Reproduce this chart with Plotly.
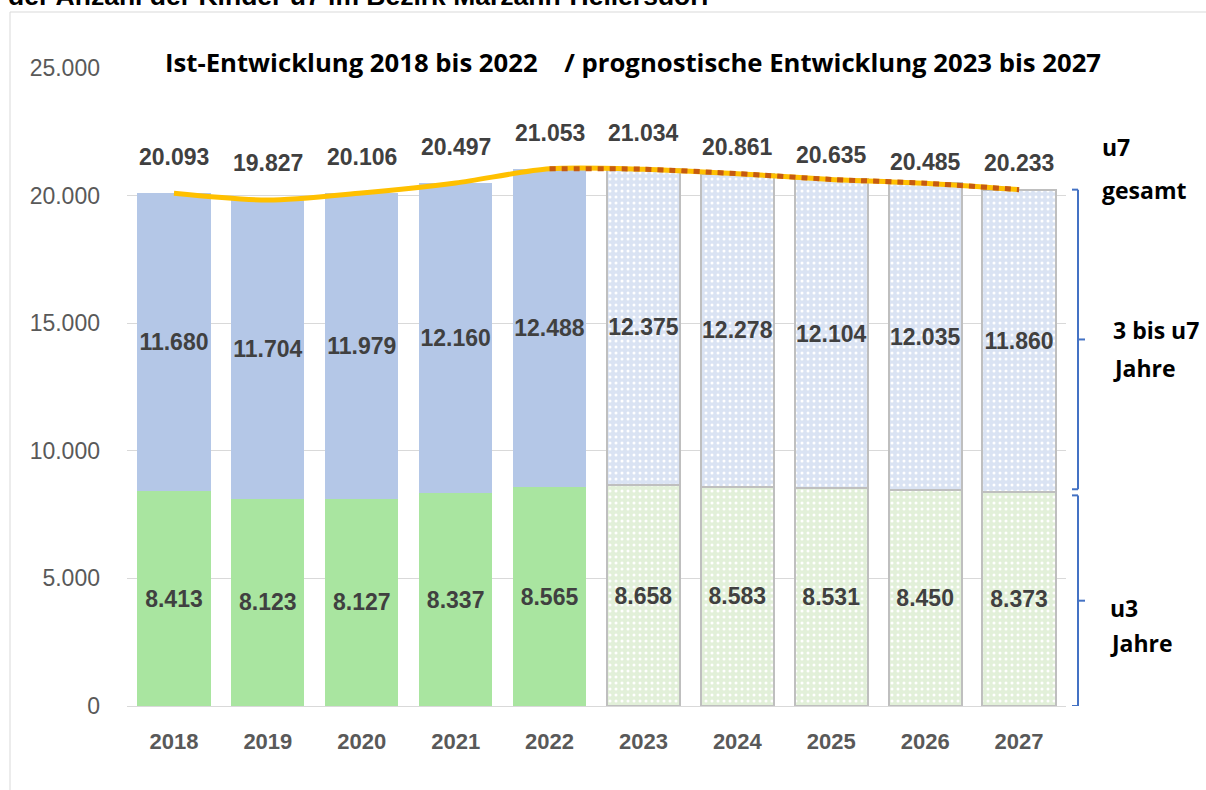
import plotly.graph_objects as go

# ---------------- data ----------------
years = ["2018", "2019", "2020", "2021", "2022", "2023", "2024", "2025", "2026", "2027"]
u3 = [8413, 8123, 8127, 8337, 8565, 8658, 8583, 8531, 8450, 8373]
age3_u7 = [11680, 11704, 11979, 12160, 12488, 12375, 12278, 12104, 12035, 11860]
u7_total = [20093, 19827, 20106, 20497, 21053, 21034, 20861, 20635, 20485, 20233]
forecast = [False, False, False, False, False, True, True, True, True, True]
y_ticks = [0, 5000, 10000, 15000, 20000, 25000]

title_text = "Ist-Entwicklung 2018 bis 2022    / prognostische Entwicklung 2023 bis 2027"
top_cut_text = "der Anzahl der Kinder u7 im Bezirk Marzahn-Hellersdorf"

# ---------------- layout constants ----------------
W, H = 1206, 790
ML, MR, MT, MB = 127, 140, 68, 84
PW, PH = W - ML - MR, H - MT - MB


def px_x(px):
    return (px - ML) / PW


def px_y(py):
    return (H - MB - py) / PH


def fmt(v):
    return f"{v:,}".replace(",", ".")


NUM_FONT = "Liberation Sans, Arial, sans-serif"
LBL_FONT = "Open Sans, Lato, sans-serif"
DARK = "#404040"

blue_hist, blue_fc = "#B4C7E7", "#DAE3F3"
green_hist, green_fc = "#A9E5A0", "#E2F0D9"


def subset(vals, want_fc):
    return [v for v, f in zip(vals, forecast) if f == want_fc]


fig = go.Figure()

for vals, hist_c, fc_c, name in [(u3, green_hist, green_fc, "u3 Jahre"),
                                 (age3_u7, blue_hist, blue_fc, "3 bis u7 Jahre")]:
    # actual (Ist) values
    hv = subset(vals, False)
    fig.add_trace(go.Bar(
        x=subset(years, False), y=hv, name=name,
        marker=dict(color=hist_c, line=dict(width=0)),
        text=[fmt(v) for v in hv],
        textposition="inside", insidetextanchor="middle", textangle=0,
        constraintext="none",
        textfont=dict(family=NUM_FONT, size=23, color=DARK, weight="bold"),
        showlegend=False,
    ))
    # forecast values (dotted pattern)
    fv = subset(vals, True)
    fig.add_trace(go.Bar(
        x=subset(years, True), y=fv, name=name + " (Prognose)",
        marker=dict(
            color=fc_c,
            line=dict(color="#BFBFBF", width=2),
            pattern=dict(shape=".", bgcolor=fc_c, fgcolor="#FFFFFF", fgopacity=1,
                         size=6, solidity=0.2, fillmode="replace"),
        ),
        text=[fmt(v) for v in fv],
        textposition="inside", insidetextanchor="middle", textangle=0,
        constraintext="none",
        textfont=dict(family=NUM_FONT, size=23, color=DARK, weight="bold"),
        showlegend=False,
    ))

# total line (smoothed)
fig.add_trace(go.Scatter(
    x=years, y=u7_total, mode="lines",
    line=dict(color="#FFC000", width=5, shape="spline", smoothing=0.8),
    showlegend=False, hoverinfo="skip",
))
# dotted forecast overlay
fc_start = forecast.index(True) - 1
fig.add_trace(go.Scatter(
    x=years[fc_start:], y=u7_total[fc_start:], mode="lines",
    line=dict(color="#C55A11", width=5, dash="6px,6px", shape="spline", smoothing=0.8),
    showlegend=False, hoverinfo="skip",
))

annotations = []
label_shift = [36, 37, 36, 36, 36, 36, 27, 24, 21, 27]
for i, (tot, sh) in enumerate(zip(u7_total, label_shift)):
    annotations.append(dict(
        x=i, y=tot, xref="x", yref="y", text=fmt(tot), showarrow=False,
        yshift=sh, font=dict(family=NUM_FONT, size=23, color=DARK, weight="bold"),
    ))

# title inside plot (white background covers grid line)
annotations.append(dict(
    x=px_x(633), y=px_y(62), xref="paper", yref="paper", text=title_text,
    showarrow=False, xanchor="center", yanchor="middle", bgcolor="#FFFFFF",
    borderpad=2,
    font=dict(family=LBL_FONT, size=25.7, color="#000000", weight="bold"),
))

# cut-off text at the very top
annotations.append(dict(
    x=px_x(6), y=px_y(13), xref="paper", yref="paper", text=top_cut_text,
    showarrow=False, xanchor="left", yanchor="bottom",
    font=dict(family=NUM_FONT, size=26.5, color="#000000", weight="bold"),
))

# right side labels
side_lines = [("u7", 1100, 147), ("gesamt", 1100, 190),
              ("3 bis u7", 1111, 330), ("Jahre", 1111, 368),
              ("u3", 1108, 608), ("Jahre", 1108, 643)]
for txt, xp, yp in side_lines:
    annotations.append(dict(
        x=px_x(xp), y=px_y(yp), xref="paper", yref="paper", text=txt,
        showarrow=False, xanchor="left", yanchor="middle",
        font=dict(family=LBL_FONT, size=23, color="#000000", weight="bold"),
    ))

shapes = []
# outer frame
shapes.append(dict(type="rect", xref="paper", yref="paper",
                   x0=px_x(10), x1=px_x(1212), y0=px_y(800), y1=px_y(12),
                   line=dict(color="#D9D9D9", width=1), fillcolor="rgba(0,0,0,0)",
                   layer="below"))


def bracket(y_top, y_bot):
    xl, xv, xt = px_x(1072), px_x(1078), px_x(1085)
    ym = (y_top + y_bot) / 2
    col = "#4472C4"
    out = []
    out.append(dict(type="line", xref="paper", yref="y", x0=xl, x1=xv, y0=y_top, y1=y_top,
                    line=dict(color=col, width=2)))
    out.append(dict(type="line", xref="paper", yref="y", x0=xv, x1=xv, y0=y_top, y1=y_bot,
                    line=dict(color=col, width=2)))
    out.append(dict(type="line", xref="paper", yref="y", x0=xl, x1=xv, y0=y_bot, y1=y_bot,
                    line=dict(color=col, width=2)))
    out.append(dict(type="line", xref="paper", yref="y", x0=xv, x1=xt, y0=ym, y1=ym,
                    line=dict(color=col, width=2)))
    return out


shapes += bracket(u7_total[-1], u3[-1] + 120)
shapes += bracket(u3[-1] - 120, 0)

fig.update_layout(
    width=W, height=H,
    margin=dict(l=ML, r=MR, t=MT, b=MB, pad=0),
    paper_bgcolor="#FFFFFF", plot_bgcolor="#FFFFFF",
    barmode="stack", bargap=0.22,
    separators=",.",
    annotations=annotations, shapes=shapes,
    xaxis=dict(
        type="category", range=[-0.5, len(years) - 0.5],
        categoryorder="array", categoryarray=years,
        showgrid=False, showline=False, zeroline=False, ticks="",
        tickfont=dict(family=NUM_FONT, size=22, color="#595959", weight="bold"),
        ticklabelstandoff=20,
    ),
    yaxis=dict(
        range=[0, 25000], tickvals=y_ticks, ticktext=[fmt(v) for v in y_ticks],
        showgrid=True, gridcolor="#D9D9D9", gridwidth=1,
        zeroline=True, zerolinecolor="#D9D9D9", zerolinewidth=1,
        showline=False, ticks="",
        tickfont=dict(family=NUM_FONT, size=23, color="#595959"),
        ticklabelstandoff=26,
    ),
)

fig.write_html("out.html", config={"displayModeBar": False},
               post_script="document.body.style.margin='0';")
